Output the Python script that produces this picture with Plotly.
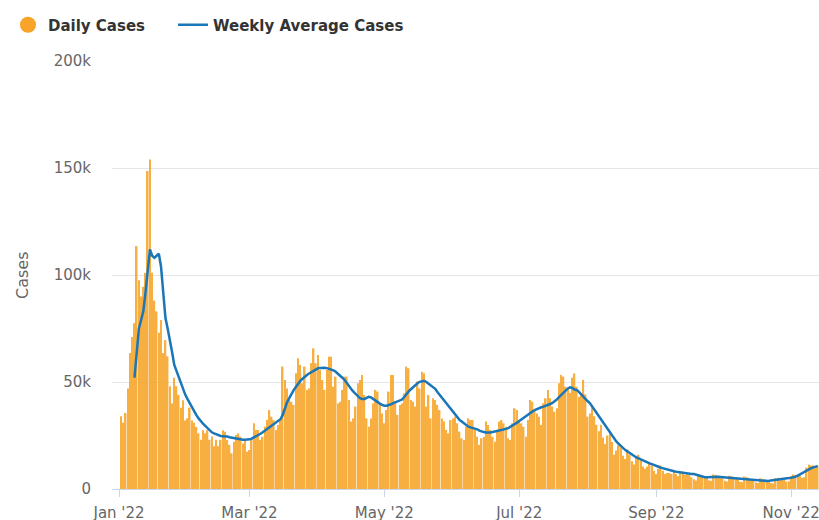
import pandas as pd
import plotly.graph_objects as go

# ---------------- data (values in thousands of cases) ----------------
bar_start = "2022-01-02"
daily_cases_k = [
    34, 31, 35.5, 47, 63.5, 71, 77.5, 113.5, 97.6, 90, 94.5, 101, 148.6, 154, 101, 88, 83, 73, 79, 63.5,
    69.6, 62, 48, 40, 52, 48, 44, 38, 41.5, 32, 33, 38, 32, 31, 29, 26, 23, 27.5, 26, 27.5,
    23, 24.5, 20, 23, 20, 23, 27.5,
    26.8, 22.9, 20.6, 16.7, 22.1, 25.2, 26.0, 24.4, 21.3, 22.9, 17.4, 18.2, 23.7, 30.7, 27.6, 27.6, 22.9,
    24.4, 29.1, 32.2, 36.9, 33.8, 32.2, 27.6, 29.9, 32.2, 57.2, 50.9, 47.0, 41.6, 40.8, 39.3, 54.1, 61.1,
    58.0, 49.4, 57.2, 46.3, 47.0, 58.8, 65.7, 58.8, 62.6, 55.6, 50.9, 46.3, 55.6, 61.8, 61.8, 47.8, 52.5,
    40.0, 40.8, 46.3, 52.5, 52.5, 41.6, 31.5, 33.0, 38.5, 49.4, 50.9, 53.3, 43.9, 33.0, 29.1, 33.0, 40.0,
    46.3, 45.5, 40.0, 35.3, 30.7, 36.9, 45.5, 53.3, 53.3, 40.8, 34.6, 39.3, 40.0, 44.7, 57.2, 56.4, 41.6,
    40.8, 38.5, 50.2, 47.0, 54.8, 54.1, 38.5, 43.9, 33.0, 42.4, 41.6, 39.3, 36.9, 33.0, 31.5, 27.6, 26.0,
    32.2, 33.0,
    33.8, 30.7, 26.8, 23.7, 22.9, 29.1, 33.0, 32.2, 32.2, 27.6, 24.4, 20.6, 23.7, 24.4, 31.5, 29.9, 27.6,
    24.4, 22.1, 27.6, 31.5, 32.2, 30.7, 29.1, 23.7, 22.9, 30.7, 37.7, 36.9, 32.2, 30.7, 29.1, 24.4, 32.2,
    41.6, 40.8, 36.9, 35.3, 33.8, 29.9, 40.0, 42.4, 46.3, 42.4, 38.5, 36.1, 37.7, 49.4, 53.3, 52.5, 47.8,
    47.0,
    45.0, 52.0, 54.0, 47.8, 43.1, 44.7, 51.0, 44.2, 33.8, 35.3, 38.5, 34.0, 30.0, 27.0, 30.0, 24.0, 21.0,
    25.0, 27.0, 22.0, 16.0, 18.0, 20.5, 19.5, 15.5, 14.0, 18.5, 16.0, 13.0, 11.5, 14.5, 16.0, 13.5, 10.5,
    9.5, 10.5, 12.0, 11.0, 8.5, 7.0, 9.5, 11.0, 8.5, 7.0, 7.5, 7.5, 7.0, 8.5, 7.0, 6.0, 7.5, 7.0, 6.5,
    7.5, 6.5, 5.5, 4.5, 4.0, 6.5, 6.5, 6.0, 5.8, 5.2, 4.0, 3.8, 6.8, 6.5, 6.0, 5.5, 5.0, 3.8, 3.5, 6.2,
    6.0, 5.6, 5.2, 4.6, 3.4, 3.2, 5.8, 5.5, 5.0, 4.6, 4.0, 3.0, 2.8, 5.0, 4.8, 4.2, 4.0, 3.6, 2.8, 2.6,
    5.0, 5.2, 5.0, 4.8, 4.2, 3.4, 3.6, 6.0, 6.8, 6.5, 6.8, 6.2, 5.2, 5.5, 10.0, 11.5, 11.0, 11.0, 10.5, 11.0,
]

line_start = "2022-01-08"
weekly_avg_k = [
    52, 65, 75, 79, 83, 92, 104, 112, 109, 108, 109, 110, 104, 92, 80, 75, 70, 64, 58, 55,
    52, 49.5, 46.5, 44, 42, 40, 38, 36, 34.5, 33, 31.5, 30.5, 29.5, 28.5, 27.5, 26.5, 26, 25.5, 25, 24.8,
    24.7, 24.7, 24.5, 24.2, 24, 23.7, 23.5, 23.2, 23.1, 23, 23, 23, 23.2, 23.5, 24, 24.5, 25.2, 25.8, 26.5, 27.3,
    28.1, 28.9, 29.7, 30.5, 31.2, 31.8, 32.6, 34.5, 38, 40.5, 42.5, 44.5, 46.2, 47.7, 49.4, 50.5, 51.5, 52.5, 53.3, 54,
    54.7, 55.4, 55.9, 56.4, 56.6, 56.7, 56.7, 56.5, 56.2, 55.9, 55.4, 54.8, 54, 53, 52, 51, 49.4, 48, 46.7, 45.5,
    44.4, 43.3, 42.4, 42, 42, 42.6, 43.1, 42.8, 42, 41.3, 40.6, 39.9, 39.3, 38.9, 38.9, 39.1, 39.6, 40.1, 40.6, 41,
    41.3, 41.8, 43, 44.5, 45.6, 46.6, 47.7, 48.6, 49.4, 50.1, 50.5, 50.6, 50, 49.3, 48.5, 47.7, 46.8, 45.3, 44, 42.7,
    41.4, 40.1, 38.8, 37.5, 36.2, 34.8, 33.5, 32.3, 31.5, 30.6, 29.8, 29.1, 28.8, 28.6, 28.4, 27.9, 27.3, 26.8, 26.6, 26.4,
    26.3, 26.4, 26.6, 26.8, 27, 27.3, 27.6, 27.9, 28.1, 28.4, 29, 29.6, 30.2, 31, 31.8, 32.6, 33.3, 34, 34.6, 35.4,
    36.2, 36.9, 37.4, 37.8, 38.2, 38.5, 38.8, 39.1, 39.7, 40.2, 40.8, 41.8, 42.9, 43.9, 45, 46.2, 47, 47.5, 47.2, 46.5,
    46.3, 45.4, 44.2, 43.1, 42, 41, 40, 38.5, 37, 35.4, 33.8, 32.2, 30.7, 29.1, 27.6, 26, 24.7, 23.4, 22.1, 21.1,
    20, 19, 18.2, 17.5, 16.7, 16.1, 15.4, 14.8, 14.3, 13.7, 13.2, 12.8, 12.4, 12, 11.6, 11.1, 10.7, 10.4, 10, 9.7,
    9.3, 9, 8.6, 8.4, 8.3, 8.1, 7.9, 7.8, 7.6, 7.4, 7.2, 7, 7, 7, 6.7, 6.3, 6, 5.7, 5.5, 5.5,
    5.6, 5.7, 5.8, 5.8, 5.7, 5.6, 5.5, 5.5, 5.4, 5.3, 5.2, 5.1, 5, 5, 4.9, 4.8, 4.8, 4.7, 4.5, 4.4,
    4.3, 4.2, 4.1, 3.9, 3.8, 3.7, 3.8, 3.9, 4, 4.1, 4.2, 4.3, 4.5, 4.6, 4.7, 4.9, 5.1, 5.3, 5.5, 5.8,
    6.3, 6.9, 7.5, 8.1, 8.6, 9.1, 9.7, 10.1, 10.4, 10.7,
]

x_tick_dates = ["2022-01-01", "2022-03-01", "2022-05-01", "2022-07-01", "2022-09-01", "2022-11-01"]
x_tick_labels = ["Jan '22", "Mar '22", "May '22", "Jul '22", "Sep '22", "Nov '22"]
y_tick_values = [0, 50000, 100000, 150000, 200000]
y_tick_labels = ["0", "50k", "100k", "150k", "200k"]

# ---------------- build ----------------
bar_dates = pd.date_range(bar_start, periods=len(daily_cases_k), freq="D")
line_dates = pd.date_range(line_start, periods=len(weekly_avg_k), freq="D")
daily_cases = [v * 1000 for v in daily_cases_k]
weekly_avg = [v * 1000 for v in weekly_avg_k]

ORANGE = "#f7a428"
BLUE = "#1b76b8"
FONT = "DejaVu Sans"
LEGEND_FONT = dict(family=FONT, size=15, color="#333333", weight="bold")

fig = go.Figure()
fig.add_trace(go.Bar(
    x=bar_dates, y=daily_cases, name="Daily Cases", showlegend=False,
    marker=dict(color=ORANGE, line=dict(width=0)), opacity=0.88,
    width=0.72 * 86400000,
))
# legend entry with a circle symbol for daily cases
fig.add_trace(go.Scatter(
    x=[None], y=[None], mode="markers", name="Daily Cases", legend="legend",
    marker=dict(color=ORANGE, size=16, symbol="circle"),
))
fig.add_trace(go.Scatter(
    x=line_dates, y=weekly_avg, mode="lines", name="Weekly Average Cases", legend="legend2",
    line=dict(color=BLUE, width=2.5),
))

fig.update_layout(
    width=819, height=520,
    margin=dict(l=112, r=0, t=61, b=31, autoexpand=False),
    paper_bgcolor="white", plot_bgcolor="white",
    font=dict(family=FONT, size=15, color="#666666"),
    showlegend=True,
    legend=dict(
        orientation="h", xref="container", yref="container",
        x=8 / 819, y=1 - 25 / 520, xanchor="left", yanchor="middle",
        font=LEGEND_FONT, itemwidth=30,
    ),
    legend2=dict(
        orientation="h", xref="container", yref="container",
        x=173 / 819, y=1 - 25 / 520, xanchor="left", yanchor="middle",
        font=LEGEND_FONT, itemwidth=30,
    ),
    xaxis=dict(
        type="date", automargin=False,
        range=["2021-12-28 20:00", "2022-11-13 14:00"],
        tickvals=x_tick_dates, ticktext=x_tick_labels,
        showgrid=False, showline=True, linecolor="#ccd6eb", linewidth=1,
        ticks="outside", tickcolor="#ccd6eb", ticklen=7, tickwidth=1,
        ticklabelstandoff=3, ticklabeloverflow="allow",
        tickfont=dict(family=FONT, size=15, color="#666666"),
        zeroline=False,
    ),
    yaxis=dict(
        range=[0, 200000], automargin=False,
        tickvals=y_tick_values, ticktext=y_tick_labels,
        showgrid=True, gridcolor="#e6e6e6", gridwidth=1,
        showline=False, zeroline=False,
        ticklabelstandoff=20,
        tickfont=dict(family=FONT, size=15, color="#666666"),
    ),
    annotations=[dict(
        text="Cases", textangle=-90, xref="paper", yref="paper",
        x=(22 - 112) / 707, y=0.5, xanchor="center", yanchor="middle",
        showarrow=False, font=dict(family=FONT, size=16, color="#666666"),
    )],
)

fig.write_html(
    "out.html",
    config={"displayModeBar": False},
    post_script="document.body.style.margin='0';",
)
